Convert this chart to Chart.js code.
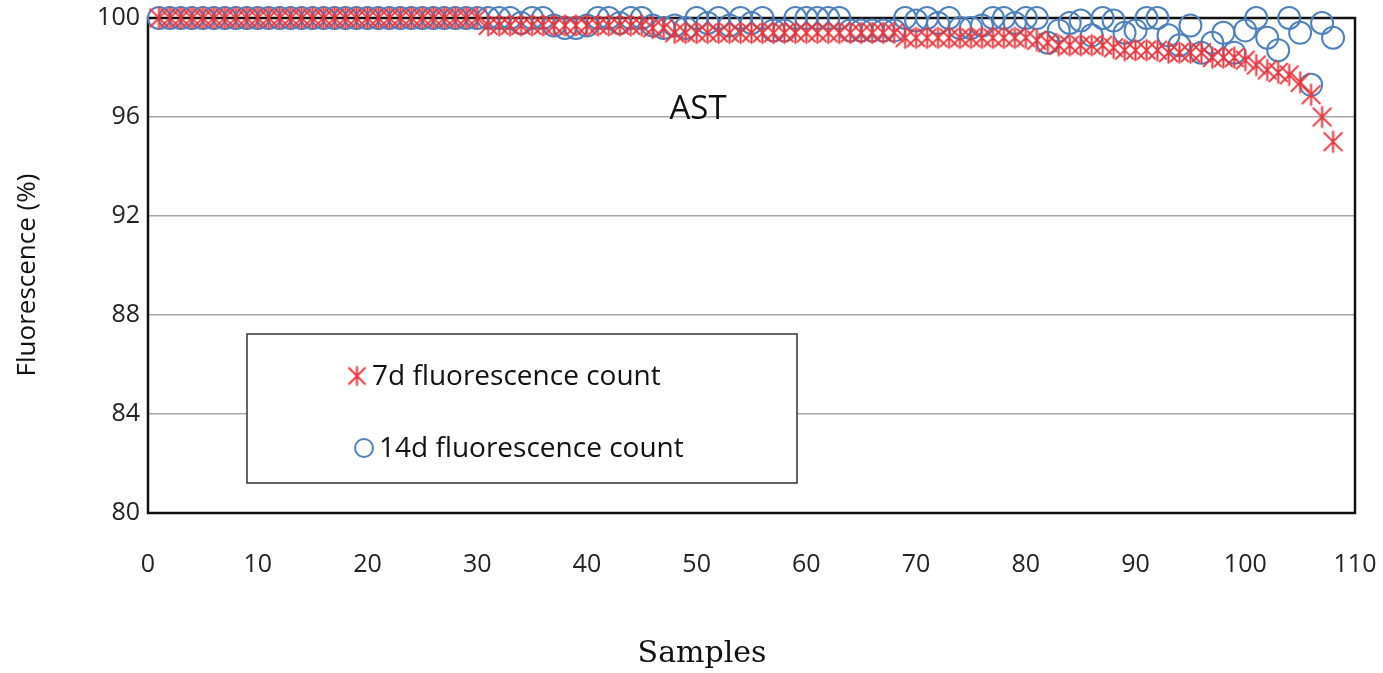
<!DOCTYPE html>
<html>
<head>
<meta charset="utf-8">
<script src="https://cdn.jsdelivr.net/npm/chart.js@4/dist/chart.umd.min.js"></script>
<style>
  html, body { margin: 0; padding: 0; background: #fff; }
  #wrap { width: 1383px; height: 673px; }
</style>
</head>
<body>
<div id="wrap"><canvas id="astChart"></canvas></div>
<script>
const samples = [
    1, 2, 3, 4, 5, 6, 7, 8, 9, 10, 11, 12, 13, 14, 15, 16, 17, 18, 19, 20,
    21, 22, 23, 24, 25, 26, 27, 28, 29, 30, 31, 32, 33, 34, 35, 36, 37, 38, 39, 40,
    41, 42, 43, 44, 45, 46, 47, 48, 49, 50, 51, 52, 53, 54, 55, 56, 57, 58, 59, 60,
    61, 62, 63, 64, 65, 66, 67, 68, 69, 70, 71, 72, 73, 74, 75, 76, 77, 78, 79, 80,
    81, 82, 83, 84, 85, 86, 87, 88, 89, 90, 91, 92, 93, 94, 95, 96, 97, 98, 99, 100,
    101, 102, 103, 104, 105, 106, 107, 108,
];

const count7d = [
    100, 100, 100, 100, 100, 100, 100, 100, 100, 100,
    100, 100, 100, 100, 100, 100, 100, 100, 100, 100,
    100, 100, 100, 100, 100, 100, 100, 100, 100, 100,
    99.7, 99.7, 99.7, 99.7, 99.7, 99.7, 99.7, 99.7, 99.7, 99.7,
    99.7, 99.7, 99.7, 99.7, 99.7, 99.6, 99.6, 99.4, 99.4, 99.4,
    99.4, 99.4, 99.4, 99.4, 99.4, 99.4, 99.4, 99.4, 99.4, 99.4,
    99.4, 99.4, 99.4, 99.4, 99.4, 99.4, 99.4, 99.4, 99.2, 99.2,
    99.2, 99.2, 99.2, 99.2, 99.2, 99.2, 99.2, 99.2, 99.2, 99.2,
    99.1, 99.0, 98.9, 98.9, 98.9, 98.9, 98.9, 98.8, 98.7, 98.7,
    98.7, 98.7, 98.6, 98.6, 98.6, 98.6, 98.4, 98.4, 98.4, 98.3,
    98.1, 97.9, 97.8, 97.7, 97.4, 96.9, 96.0, 95.0,
];

const count14d = [
    100, 100, 100, 100, 100, 100, 100, 100, 100, 100,
    100, 100, 100, 100, 100, 100, 100, 100, 100, 100,
    100, 100, 100, 100, 100, 100, 100, 100, 100, 100,
    100, 100, 100, 99.8, 100, 100, 99.7, 99.6, 99.6, 99.7,
    100, 100, 99.8, 100, 100, 99.7, 99.6, 99.7, 99.6, 100,
    99.8, 100, 99.7, 100, 99.8, 100, 99.5, 99.5, 100, 100,
    100, 100, 100, 99.5, 99.5, 99.5, 99.5, 99.5, 100, 99.9,
    100, 99.8, 100, 99.6, 99.6, 99.7, 100, 100, 99.8, 100,
    100, 99.0, 99.5, 99.8, 99.9, 99.3, 100, 99.9, 99.4, 99.5,
    100, 100, 99.3, 98.9, 99.7, 98.6, 99.0, 99.4, 98.6, 99.5,
    100, 99.2, 98.7, 100, 99.4, 97.3, 99.8, 99.2,
];

const xTicks = [0, 10, 20, 30, 40, 50, 60, 70, 80, 90, 100, 110];
const yTicks = [80, 84, 88, 92, 96, 100];

const RED = '#e8343b';
const BLUE = '#4f81bd';
const SANS = '"Open Sans", "Liberation Sans", sans-serif';
const SERIF = '"DejaVu Serif", "Liberation Serif", serif';

// Excel style asterisk marker: an X with a vertical stroke
function makeStar(size, color) {
    const c = document.createElement('canvas');
    c.width = size;
    c.height = size;
    const g = c.getContext('2d');
    const m = size / 2;
    const r = size / 2 - 1.5;
    g.strokeStyle = color;
    g.lineWidth = 2;
    g.beginPath();
    g.moveTo(m - r * 0.85, m - r * 0.85);
    g.lineTo(m + r * 0.85, m + r * 0.85);
    g.moveTo(m + r * 0.85, m - r * 0.85);
    g.lineTo(m - r * 0.85, m + r * 0.85);
    g.moveTo(m, m - r);
    g.lineTo(m, m + r);
    g.stroke();
    return c;
}

const starMarker = makeStar(25, RED);
const legendStar = makeStar(23, RED);

const toPoints = (vals) => vals.map((v, i) => ({ x: samples[i], y: v }));

const frameAndNotes = {
    id: 'frameAndNotes',
    beforeDatasetsDraw(chart) {
        const { ctx, chartArea: a } = chart;
        ctx.save();
        ctx.strokeStyle = '#111';
        ctx.lineWidth = 2.5;
        ctx.strokeRect(a.left, a.top, a.right - a.left, a.bottom - a.top);
        ctx.restore();
    },
    afterDatasetsDraw(chart) {
        const { ctx } = chart;
        ctx.save();
        ctx.fillStyle = '#111';
        ctx.textAlign = 'center';
        ctx.textBaseline = 'middle';

        // panel label
        ctx.font = '33px ' + SANS;
        ctx.fillText('AST', 698, 110);

        // axis titles
        ctx.font = '30px ' + SERIF;
        ctx.fillText('Samples', 702, 654);
        ctx.save();
        ctx.translate(28, 275);
        ctx.rotate(-Math.PI / 2);
        ctx.font = '26px ' + SANS;
        ctx.fillText('Fluorescence (%)', 0, 0);
        ctx.restore();

        // legend box inside the plot
        ctx.fillStyle = '#fff';
        ctx.fillRect(247, 334, 550, 149);
        ctx.strokeStyle = '#333';
        ctx.lineWidth = 1.5;
        ctx.strokeRect(247, 334, 550, 149);

        ctx.drawImage(legendStar, 357 - 11.5, 376 - 11.5);
        ctx.beginPath();
        ctx.strokeStyle = BLUE;
        ctx.lineWidth = 2;
        ctx.arc(364, 448, 9, 0, Math.PI * 2);
        ctx.stroke();

        ctx.fillStyle = '#111';
        ctx.font = '28px ' + SANS;
        ctx.textAlign = 'left';
        ctx.fillText(chart.data.datasets[0].label, 372, 377);
        ctx.fillText(chart.data.datasets[1].label, 379, 449);
        ctx.restore();
    },
};

new Chart(document.getElementById('astChart'), {
    type: 'scatter',
    data: {
        datasets: [
            {
                label: '7d fluorescence count',
                data: toPoints(count7d),
                pointStyle: starMarker,
                pointRadius: 12,
                clip: false,
            },
            {
                label: '14d fluorescence count',
                data: toPoints(count14d),
                pointStyle: 'circle',
                pointRadius: 11,
                borderColor: BLUE,
                backgroundColor: 'rgba(0, 0, 0, 0)',
                borderWidth: 2,
                clip: false,
            },
        ],
    },
    plugins: [frameAndNotes],
    options: {
        responsive: true,
        maintainAspectRatio: false,
        animation: false,
        layout: {
            padding: { top: 18, right: 28, left: 0, bottom: 0 },
        },
        plugins: {
            legend: { display: false },
            tooltip: { enabled: false },
        },
        scales: {
            x: {
                type: 'linear',
                min: 0,
                max: 110,
                afterFit: (s) => {
                    s.height = 160;
                    s.paddingLeft = 0;
                    s.paddingRight = 0;
                },
                afterBuildTicks: (s) => { s.ticks = xTicks.map((v) => ({ value: v })); },
                grid: { display: false, drawTicks: false },
                border: { display: false },
                ticks: {
                    color: '#222',
                    padding: 37,
                    maxRotation: 0,
                    font: { family: SANS, size: 25 },
                },
            },
            y: {
                min: 80,
                max: 100,
                afterFit: (s) => {
                    s.width = 148;
                    s.paddingTop = 0;
                    s.paddingBottom = 0;
                },
                afterBuildTicks: (s) => { s.ticks = yTicks.map((v) => ({ value: v })); },
                grid: {
                    drawTicks: false,
                    color: (c) => (c.tick.value === 80 || c.tick.value === 100 ? 'rgba(0,0,0,0)' : '#a6a6a6'),
                    lineWidth: 1.5,
                },
                border: { display: false },
                ticks: {
                    color: '#222',
                    padding: 8,
                    font: { family: SANS, size: 25 },
                },
            },
        },
    },
});
</script>
</body>
</html>
